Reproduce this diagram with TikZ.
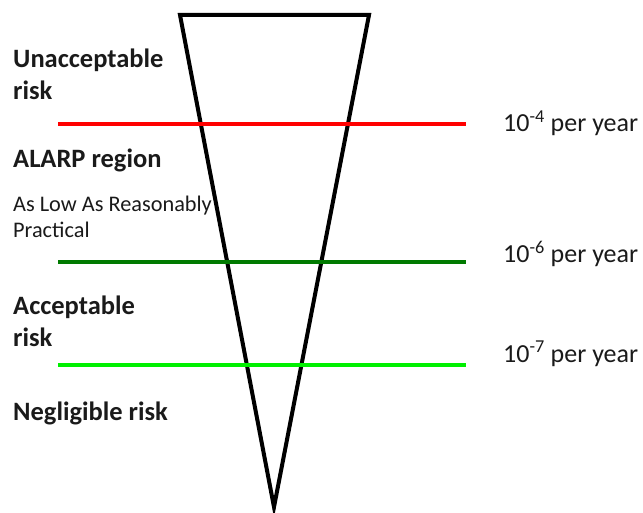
\documentclass[tikz,border=0pt]{standalone}
\usepackage{fontspec}
\setmainfont{Carlito}
\definecolor{txt}{HTML}{1A1A1A}
\definecolor{lred}{HTML}{FF0000}
\definecolor{dgreen}{HTML}{007A00}
\definecolor{lgreen}{HTML}{00F000}
\begin{document}
\begin{tikzpicture}[x=1pt,y=-1pt,
  head/.style={anchor=base west,inner sep=0pt,text=txt,font=\fontsize{26.5}{32}\selectfont\bfseries,align=left},
  sub/.style={anchor=base west,inner sep=0pt,text=txt,font=\fontsize{22.3}{26}\selectfont,align=left},
  rate/.style={anchor=base west,inner sep=0pt,text=txt,font=\fontsize{26}{32}\selectfont},
  level/.style={line width=4pt}]
\useasboundingbox (0,0) rectangle (643,513);
\coordinate (tl) at (180,15);
\coordinate (tr) at (369,15);
\coordinate (apex) at (274,507);
\draw[line width=4pt,line join=miter] (tl) -- (tr) -- (apex) -- cycle;
\coordinate (r1) at (58,124); \coordinate (r2) at (466,124);
\coordinate (g1) at (58,262); \coordinate (g2) at (466,262);
\coordinate (l1) at (58,365); \coordinate (l2) at (466,365);
\draw[level,lred] (r1) -- (r2);
\draw[level,dgreen] (g1) -- (g2);
\draw[level,lgreen] (l1) -- (l2);
% multi-line nodes: base anchor is the last line's baseline
\node[head] (unacc) at (13,100) {Unacceptable\\risk};
\node[head] (alarp) at (13,168) {ALARP region};
\node[sub] (asl) at (13,238) {As Low As Reasonably\\Practical};
\node[head] (acc) at (13,346) {Acceptable\\risk};
\node[head] (negl) at (13,420) {Negligible risk};
\node[rate] (p4) at (503,132) {10\textsuperscript{-4} per year};
\node[rate] (p6) at (503,263) {10\textsuperscript{-6} per year};
\node[rate] (p7) at (503,362) {10\textsuperscript{-7} per year};
\end{tikzpicture}
\end{document}
